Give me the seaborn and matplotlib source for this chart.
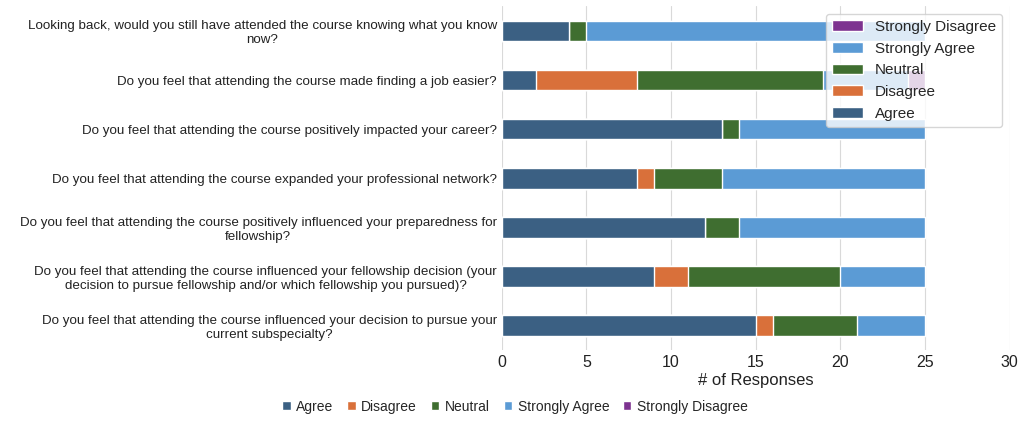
import matplotlib as mpl
mpl.use('Agg')
import matplotlib.pyplot as plt
import seaborn as sns
import pandas as pd
import numpy as np

sns.set_theme(style='white')
plt.rcParams['font.family'] = ['Liberation Sans', 'DejaVu Sans']

questions = [
    'Looking back, would you still have attended the course knowing what you know\nnow?',
    'Do you feel that attending the course made finding a job easier?',
    'Do you feel that attending the course positively impacted your career?',
    'Do you feel that attending the course expanded your professional network?',
    'Do you feel that attending the course positively influenced your preparedness for\nfellowship?',
    'Do you feel that attending the course influenced your fellowship decision (your\ndecision to pursue fellowship and/or which fellowship you pursued)?',
    'Do you feel that attending the course influenced your decision to pursue your\ncurrent subspecialty?',
]
categories = ['Agree', 'Disagree', 'Neutral', 'Strongly Agree', 'Strongly Disagree']
agree = [4, 2, 13, 8, 12, 9, 15]
disagree = [0, 6, 0, 1, 0, 2, 1]
neutral = [1, 11, 1, 4, 2, 9, 5]
strongly_agree = [20, 5, 11, 12, 11, 5, 4]
strongly_disagree = [0, 1, 0, 0, 0, 0, 0]
colors = ['#3B6083', '#D9703A', '#3F6E30', '#5B9BD5', '#7D3390']

series = [agree, disagree, neutral, strongly_agree, strongly_disagree]
cum = np.cumsum(np.array(series), axis=0)

fig, ax = plt.subplots(figsize=(10.24, 4.22), dpi=100)
# draw cumulative totals from the last category back so each layer covers the next
for i in range(len(categories) - 1, -1, -1):
    df = pd.DataFrame({'q': questions, 'v': cum[i]})
    sns.barplot(data=df, x='v', y='q', color=colors[i], width=0.42,
                saturation=1, ax=ax, label=categories[i], zorder=3)

ax.set_xlim(0, 30)
ax.set_xticks(range(0, 31, 5))
ax.grid(axis='x', color='#D9D9D9', linewidth=0.8, zorder=0)
for s in ax.spines.values():
    s.set_visible(False)
ax.set_xlabel('# of Responses', fontsize=12, color='#222222', labelpad=2)
ax.set_ylabel('')
ax.tick_params(axis='both', length=0, colors='#222222')
ax.tick_params(axis='y', labelsize=9.6)
ax.tick_params(axis='x', labelsize=11.5)
for t in ax.get_yticklabels():
    t.set_multialignment('center')

handles, labels = ax.get_legend_handles_labels()
order = [labels.index(c) for c in categories]
fig.legend([handles[k] for k in order], categories, loc='lower center',
           bbox_to_anchor=(0.503, -0.01), ncol=5, frameon=False, fontsize=10,
           handlelength=0.6, handleheight=0.6, columnspacing=1.0, handletextpad=0.4)

plt.subplots_adjust(left=0.49, right=0.986, top=0.985, bottom=0.17)
plt.savefig('out.png')
